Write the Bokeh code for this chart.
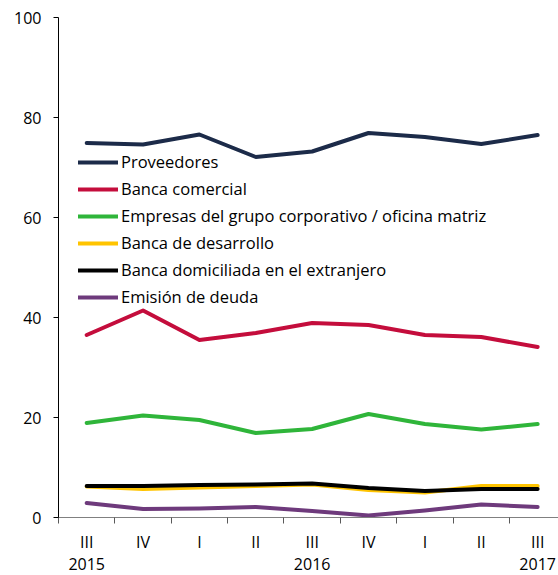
from bokeh.plotting import figure
from bokeh.models import FixedTicker, LinearAxis, Legend, LegendItem, Range1d
from bokeh.embed import file_html
from bokeh.resources import INLINE

quarters = ["III", "IV", "I", "II", "III", "IV", "I", "II", "III"]
years = {0: "2015", 4: "2016", 8: "2017"}

proveedores = [74.9, 74.6, 76.6, 72.1, 73.2, 76.9, 76.1, 74.7, 76.5]
banca_comercial = [36.5, 41.4, 35.5, 36.9, 38.9, 38.5, 36.5, 36.1, 34.1]
empresas_grupo = [18.9, 20.4, 19.5, 16.9, 17.7, 20.7, 18.7, 17.6, 18.7]
banca_desarrollo = [6.2, 5.7, 6.0, 6.3, 6.6, 5.5, 5.0, 6.3, 6.3]
banca_extranjero = [6.3, 6.3, 6.5, 6.6, 6.8, 5.9, 5.3, 5.7, 5.7]
emision_deuda = [2.9, 1.7, 1.8, 2.1, 1.3, 0.4, 1.4, 2.6, 2.1]

series = [
    ("Proveedores", proveedores, "#1c2b49"),
    ("Banca comercial", banca_comercial, "#c40d3c"),
    ("Empresas del grupo corporativo / oficina matriz", empresas_grupo, "#2fb53a"),
    ("Banca de desarrollo", banca_desarrollo, "#ffc400"),
    ("Banca domiciliada en el extranjero", banca_extranjero, "#000000"),
    ("Emisión de deuda", emision_deuda, "#6e3a7c"),
]

FONT = "Open Sans"
x = list(range(len(quarters)))

p = figure(width=558, height=575, output_backend="svg", toolbar_location=None,
           x_range=Range1d(-0.5, 8.37), y_range=Range1d(0, 100),
           min_border_left=58, min_border_top=17, min_border_right=0, min_border_bottom=58,
           x_axis_location=None)
p.outline_line_color = None
p.grid.visible = False
p.background_fill_color = "white"

items = []
for name, vals, color in series:
    r = p.line(x, vals, line_color=color, line_width=4, line_cap="round", line_join="round")
    items.append(LegendItem(label=name, renderers=[r]))

legend = Legend(items=items, location=(20, 209), orientation="vertical",
                border_line_color=None, background_fill_alpha=0,
                padding=0, margin=0, spacing=4, glyph_width=40, glyph_height=20,
                label_height=20, label_standoff=3,
                label_text_font=FONT, label_text_font_size="16.5px", label_text_color="#000000")
p.add_layout(legend, "center")

# y axis
yax = p.yaxis[0]
yax.ticker = FixedTicker(ticks=[0, 20, 40, 60, 80, 100])
yax.axis_line_color = "black"
yax.major_tick_line_color = "black"
yax.major_tick_out = 5
yax.major_tick_in = 0
yax.minor_tick_out = 0
yax.minor_tick_in = 0
yax.major_label_standoff = 12
yax.major_label_text_font = FONT
yax.major_label_text_font_size = "16px"
yax.major_label_text_color = "black"

# x axis (quarters)
xax = LinearAxis(ticker=FixedTicker(ticks=x, minor_ticks=[i - 0.5 for i in range(len(quarters) + 1)]))
xax.major_label_overrides = {i: q for i, q in enumerate(quarters)}
xax.axis_line_color = "#808080"
xax.major_tick_out = 0
xax.major_tick_in = 0
xax.minor_tick_line_color = "#595959"
xax.minor_tick_out = 6
xax.minor_tick_in = 0
xax.major_label_standoff = 7
xax.major_label_text_font = FONT
xax.major_label_text_font_size = "16px"
xax.major_label_text_color = "black"
p.add_layout(xax, "below")

# year axis
yr = LinearAxis(ticker=FixedTicker(ticks=list(years.keys())))
yr.major_label_overrides = years
yr.axis_line_color = None
yr.major_tick_line_color = None
yr.minor_tick_line_color = None
yr.major_tick_out = 0
yr.major_tick_in = 0
yr.major_label_standoff = 2
yr.major_label_text_font = FONT
yr.major_label_text_font_size = "16px"
yr.major_label_text_color = "black"
p.add_layout(yr, "below")

open("out.html", "w").write(file_html(p, INLINE))
